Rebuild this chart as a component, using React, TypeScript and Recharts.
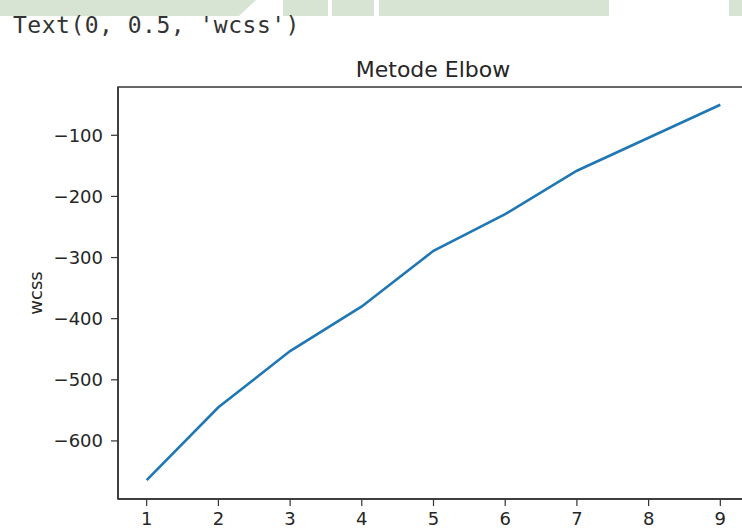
import { LineChart, Line, XAxis, YAxis, ReferenceArea } from 'recharts';

const clusters = [1, 2, 3, 4, 5, 6, 7, 8, 9];
const wcss = [-664, -545, -453, -380, -289, -229, -158, -104, -50];
const xTicks = [1, 2, 3, 4, 5, 6, 7, 8, 9];
const yTicks = [-600, -500, -400, -300, -200, -100];

const xDomain: [number, number] = [0.6, 9.4];
const yDomain: [number, number] = [-695, -21];

const data = clusters.map((k, i) => ({ k, wcss: wcss[i] }));

const textColor = '#262626';
const spine = '#333';
const band = '#d8e4d3';

const minus = (v: number) => String(v).replace('-', '\u2212');

export default function App() {
  return (
    <div
      style={{
        position: 'absolute',
        left: 0,
        top: 0,
        width: 742,
        height: 529,
        overflow: 'hidden',
        background: '#fff',
        fontFamily: '"DejaVu Sans", sans-serif',
      }}
    >
      {/* notebook header strip */}
      <div style={{ position: 'absolute', left: 0, top: 0, width: 256, height: 16, background: band, clipPath: 'polygon(0 0, 256px 0, 239px 16px, 0 16px)' }} />
      <div style={{ position: 'absolute', left: 283, top: 0, width: 45, height: 16, background: band }} />
      <div style={{ position: 'absolute', left: 332, top: 0, width: 42, height: 16, background: band }} />
      <div style={{ position: 'absolute', left: 379, top: 0, width: 230, height: 16, background: band }} />
      <div style={{ position: 'absolute', left: 729, top: 0, width: 13, height: 16, background: band }} />

      <div
        style={{
          position: 'absolute',
          left: 13,
          top: 13.5,
          fontFamily: '"DejaVu Sans Mono", monospace',
          fontSize: 23,
          letterSpacing: 0.5,
          lineHeight: 1,
          color: '#333',
          whiteSpace: 'pre',
        }}
      >
        Text(0, 0.5, 'wcss')
      </div>

      <div
        style={{
          position: 'absolute',
          left: 118,
          width: 630,
          top: 59,
          textAlign: 'center',
          fontSize: 22,
          lineHeight: 1,
          color: textColor,
        }}
      >
        Metode Elbow
      </div>

      <div
        style={{
          position: 'absolute',
          left: 36,
          top: 293,
          transform: 'translate(-50%, -50%) rotate(-90deg)',
          fontSize: 18,
          lineHeight: 1,
          color: textColor,
        }}
      >
        wcss
      </div>

      <div style={{ position: 'absolute', left: 0, top: 0 }}>
        <LineChart width={760} height={529} data={data} margin={{ top: 87, right: 11, bottom: 0, left: 0 }}>
          <XAxis
            dataKey="k"
            type="number"
            domain={xDomain}
            ticks={xTicks}
            height={30}
            tickSize={7}
            tickMargin={6}
            axisLine={{ stroke: spine, strokeWidth: 1.5 }}
            tickLine={{ stroke: spine, strokeWidth: 1.2 }}
            tick={{ fill: textColor, fontSize: 18 }}
            allowDataOverflow
          />
          <YAxis
            type="number"
            domain={yDomain}
            ticks={yTicks}
            width={118}
            tickSize={7}
            tickMargin={8}
            tickFormatter={minus}
            axisLine={{ stroke: spine, strokeWidth: 1.5 }}
            tickLine={{ stroke: spine, strokeWidth: 1.2 }}
            tick={{ fill: textColor, fontSize: 18 }}
            allowDataOverflow
          />
          <ReferenceArea
            x1={xDomain[0]}
            x2={xDomain[1]}
            y1={yDomain[0]}
            y2={yDomain[1]}
            fill="none"
            stroke={spine}
            strokeWidth={1.5}
            ifOverflow="visible"
          />
          <Line
            type="linear"
            dataKey="wcss"
            stroke="#1f77b4"
            strokeWidth={2.6}
            dot={false}
            isAnimationActive={false}
          />
        </LineChart>
      </div>
    </div>
  );
}
